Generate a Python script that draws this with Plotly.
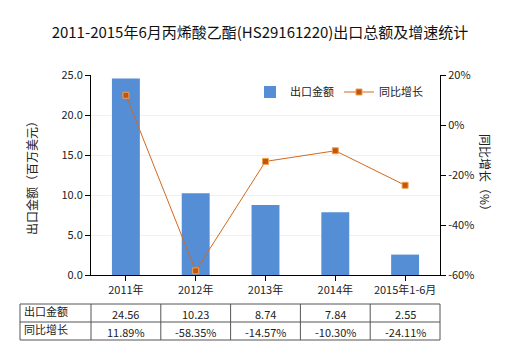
import plotly.graph_objects as go

categories = ["2011年", "2012年", "2013年", "2014年", "2015年1-6月"]
export_values = [24.56, 10.23, 8.74, 7.84, 2.55]
growth_values = [11.89, -58.35, -14.57, -10.30, -24.11]
row_labels = ["出口金额", "同比增长"]
growth_ticks = [-60, -40, -20, 0, 20]
growth_tick_labels = ["-60%", "-40%", "-20%", "0%", "20%"]

FONT = "Noto Sans CJK SC, Microsoft YaHei, sans-serif"
BAR_COLOR = "#558ED5"
LINE_COLOR = "#D2691E"

fig = go.Figure()
fig.add_trace(go.Bar(
    x=categories, y=export_values, name="出口金额",
    marker=dict(color=BAR_COLOR, line=dict(width=0)), width=0.4,
    yaxis="y",
))
fig.add_trace(go.Scatter(
    x=categories, y=growth_values, name="同比增长", mode="lines+markers",
    line=dict(color=LINE_COLOR, width=1),
    marker=dict(symbol="square", size=6, color="#C0560E", line=dict(color="#F0A050", width=1)),
    yaxis="y2",
))

L, R, T, B = 91, 80, 75, 75
W, H = 520, 350
pw, ph = W - L - R, H - T - B

def px(xpix):
    return (xpix - L) / pw

def py(ypix):
    return (H - B - ypix) / ph

shapes = []
annotations = []
# Table geometry
tx0 = px(20)
col_w = 1.0 / len(categories)
ty_top, ty_mid, ty_bot = py(304), py(322), py(340)
border = dict(color="#555555", width=1)
for yy in (ty_top, ty_mid, ty_bot):
    shapes.append(dict(type="line", xref="paper", yref="paper", x0=tx0, x1=1.0, y0=yy, y1=yy, line=border))
xs = [tx0, 0.0] + [col_w * (i + 1) for i in range(len(categories))]
for xx in xs:
    shapes.append(dict(type="line", xref="paper", yref="paper", x0=xx, x1=xx, y0=ty_top, y1=ty_bot, line=border))

rows = [[f"{v:.2f}" for v in export_values], [f"{v:.2f}%" for v in growth_values]]
row_centers = [(ty_top + ty_mid) / 2, (ty_mid + ty_bot) / 2]
for r, label in enumerate(row_labels):
    annotations.append(dict(xref="paper", yref="paper", x=px(22), y=row_centers[r] + 0.01, text=label,
                            showarrow=False, xanchor="left", yanchor="middle",
                            font=dict(family=FONT, size=11, color="#222")))
    for i, txt in enumerate(rows[r]):
        annotations.append(dict(xref="paper", yref="paper", x=col_w * (i + 0.5), y=row_centers[r] - 0.005, text=txt,
                                showarrow=False, xanchor="center", yanchor="middle",
                                font=dict(family=FONT, size=11, color="#222")))

# Axis titles
annotations.append(dict(xref="paper", yref="paper", x=px(31), y=0.5, text="出口金额（百万美元）",
                        textangle=-90, showarrow=False, xanchor="center", yanchor="middle",
                        font=dict(family=FONT, size=12, color="#222")))
annotations.append(dict(xref="paper", yref="paper", x=px(486), y=0.5, text="同比增长（%）",
                        textangle=90, showarrow=False, xanchor="center", yanchor="middle",
                        font=dict(family=FONT, size=12, color="#222")))

fig.update_layout(
    width=W, height=H,
    margin=dict(l=L, r=R, t=T, b=B),
    paper_bgcolor="white", plot_bgcolor="white",
    font=dict(family=FONT, size=11, color="#222"),
    title=dict(text="2011-2015年6月丙烯酸乙酯(HS29161220)出口总额及增速统计",
               x=0.5, xanchor="center", y=1 - 33 / H, yanchor="middle",
               font=dict(family=FONT, size=15, color="#111")),
    showlegend=True,
    legend=dict(orientation="h", x=px(250), y=py(92), xanchor="left", yanchor="middle",
                bgcolor="rgba(0,0,0,0)", font=dict(family=FONT, size=11, color="#222"),
                itemwidth=30, tracegroupgap=0),
    xaxis=dict(showline=True, linecolor="#000", linewidth=1, ticks="outside", ticklen=5,
               tickcolor="#000", showgrid=False, tickfont=dict(size=11)),
    yaxis=dict(range=[0, 25], dtick=5, tickformat=".1f", showline=True, linecolor="#000",
               linewidth=1, ticks="outside", ticklen=5, tickcolor="#000",
               showgrid=True, gridcolor="#EDF1F3", gridwidth=1, zeroline=False,
               tickfont=dict(size=11)),
    yaxis2=dict(range=[-60, 20], tickmode="array", tickvals=growth_ticks, ticktext=growth_tick_labels,
                overlaying="y", side="right",
                showline=True, linecolor="#000", linewidth=1, ticks="outside", ticklen=5,
                tickcolor="#000", showgrid=False, zeroline=False, tickfont=dict(size=11)),
    shapes=shapes,
    annotations=annotations,
)

fig.write_html("out.html")
